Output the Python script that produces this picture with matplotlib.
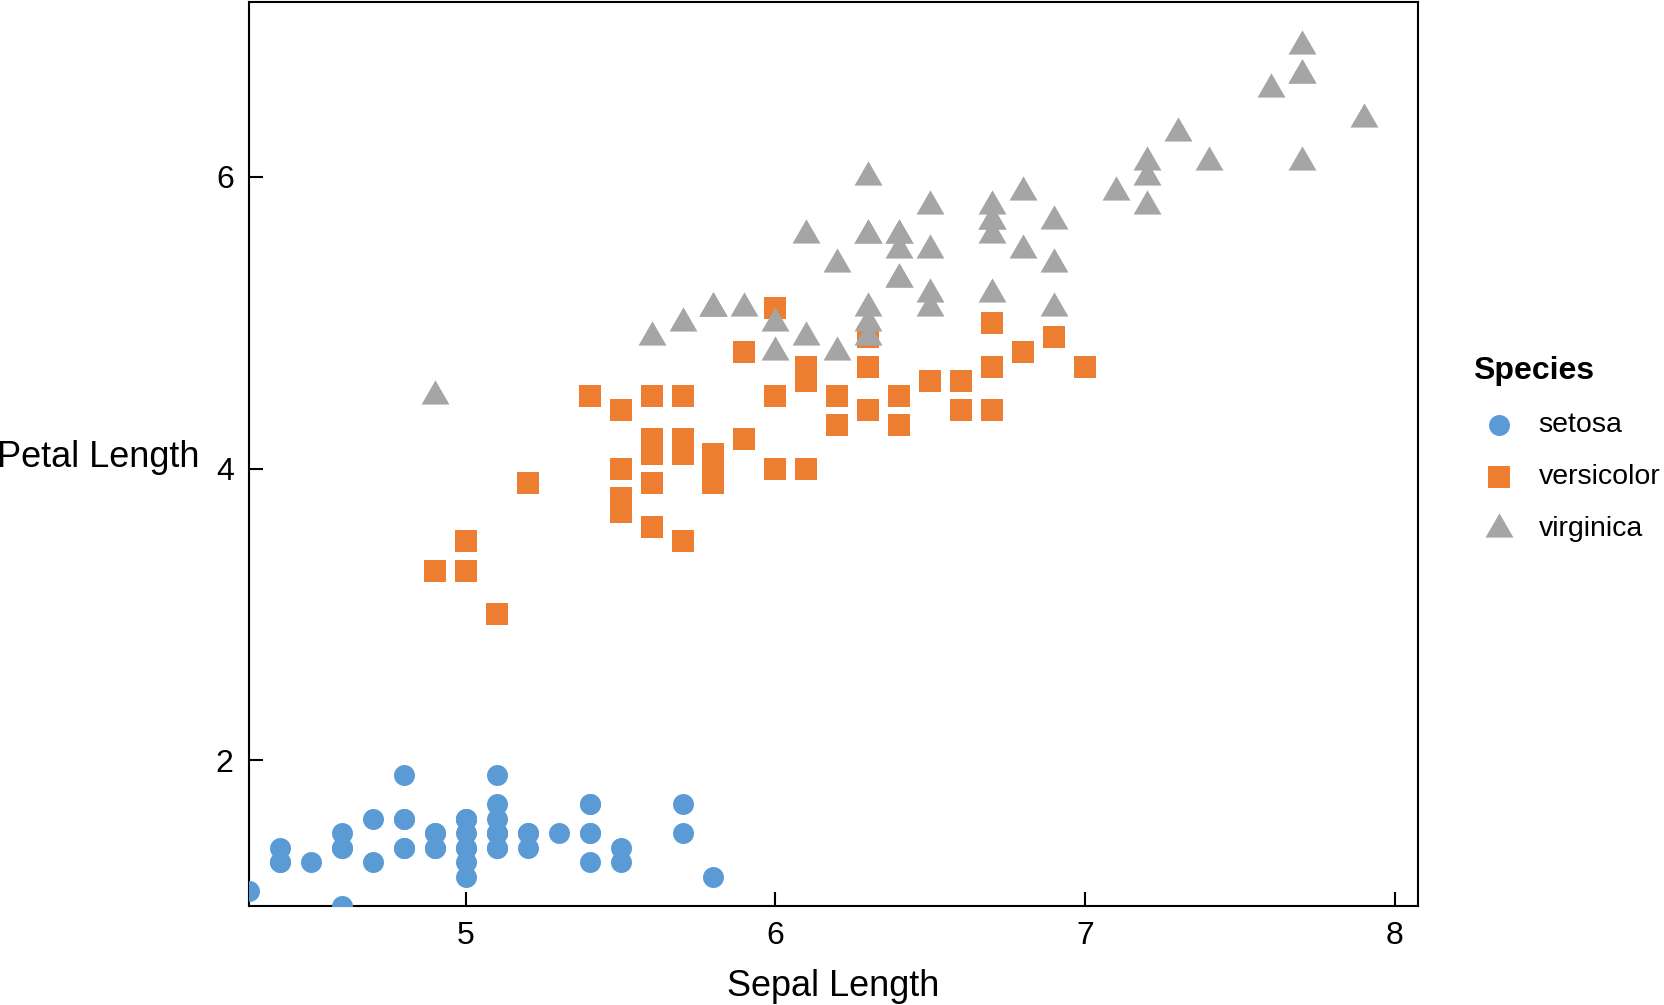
import numpy as np
import matplotlib
matplotlib.use("Agg")
import matplotlib.pyplot as plt

plt.rcParams['font.family'] = ['Liberation Sans', 'DejaVu Sans']

# iris: sepal length / petal length per species
setosa_sepal = [5.1, 4.9, 4.7, 4.6, 5.0, 5.4, 4.6, 5.0, 4.4, 4.9,
                5.4, 4.8, 4.8, 4.3, 5.8, 5.7, 5.4, 5.1, 5.7, 5.1,
                5.4, 5.1, 4.6, 5.1, 4.8, 5.0, 5.0, 5.2, 5.2, 4.7,
                4.8, 5.4, 5.2, 5.5, 4.9, 5.0, 5.5, 4.9, 4.4, 5.1,
                5.0, 4.5, 4.4, 5.0, 5.1, 4.8, 5.1, 4.6, 5.3, 5.0]
setosa_petal = [1.4, 1.4, 1.3, 1.5, 1.4, 1.7, 1.4, 1.5, 1.4, 1.5,
                1.5, 1.6, 1.4, 1.1, 1.2, 1.5, 1.3, 1.4, 1.7, 1.5,
                1.7, 1.5, 1.0, 1.7, 1.9, 1.6, 1.6, 1.5, 1.4, 1.6,
                1.6, 1.5, 1.5, 1.4, 1.5, 1.2, 1.3, 1.4, 1.3, 1.5,
                1.3, 1.3, 1.3, 1.6, 1.9, 1.4, 1.6, 1.4, 1.5, 1.4]

versicolor_sepal = [7.0, 6.4, 6.9, 5.5, 6.5, 5.7, 6.3, 4.9, 6.6, 5.2,
                    5.0, 5.9, 6.0, 6.1, 5.6, 6.7, 5.6, 5.8, 6.2, 5.6,
                    5.9, 6.1, 6.3, 6.1, 6.4, 6.6, 6.8, 6.7, 6.0, 5.7,
                    5.5, 5.5, 5.8, 6.0, 5.4, 6.0, 6.7, 6.3, 5.6, 5.5,
                    5.5, 6.1, 5.8, 5.0, 5.6, 5.7, 5.7, 6.2, 5.1, 5.7]
versicolor_petal = [4.7, 4.5, 4.9, 4.0, 4.6, 4.5, 4.7, 3.3, 4.6, 3.9,
                    3.5, 4.2, 4.0, 4.7, 3.6, 4.4, 4.5, 4.1, 4.5, 3.9,
                    4.8, 4.0, 4.9, 4.7, 4.3, 4.4, 4.8, 5.0, 4.5, 3.5,
                    3.8, 3.7, 3.9, 5.1, 4.5, 4.5, 4.7, 4.4, 4.1, 4.0,
                    4.4, 4.6, 4.0, 3.3, 4.2, 4.2, 4.2, 4.3, 3.0, 4.1]

virginica_sepal = [6.3, 5.8, 7.1, 6.3, 6.5, 7.6, 4.9, 7.3, 6.7, 7.2,
                   6.5, 6.4, 6.8, 5.7, 5.8, 6.4, 6.5, 7.7, 7.7, 6.0,
                   6.9, 5.6, 7.7, 6.3, 6.7, 7.2, 6.2, 6.1, 6.4, 7.2,
                   7.4, 7.9, 6.4, 6.3, 6.1, 7.7, 6.3, 6.4, 6.0, 6.9,
                   6.7, 6.9, 5.8, 6.8, 6.7, 6.7, 6.3, 6.5, 6.2, 5.9]
virginica_petal = [6.0, 5.1, 5.9, 5.6, 5.8, 6.6, 4.5, 6.3, 5.8, 6.1,
                   5.1, 5.3, 5.5, 5.0, 5.1, 5.3, 5.5, 6.7, 6.9, 5.0,
                   5.7, 4.9, 6.7, 4.9, 5.7, 6.0, 4.8, 4.9, 5.6, 5.8,
                   6.1, 6.4, 5.6, 5.1, 5.6, 6.1, 5.6, 5.5, 4.8, 5.4,
                   5.6, 5.1, 5.1, 5.9, 5.7, 5.2, 5.0, 5.2, 5.4, 5.1]

species = ['setosa', 'versicolor', 'virginica']
colors = ['#5B9BD5', '#ED7D31', '#A5A5A5']

# equilateral-ish triangle marker
tri = [(0, 1), (-0.866, -0.5), (0.866, -0.5)]

fig = plt.figure(figsize=(16.65, 10.05), dpi=100)
ax = fig.add_axes([0.1495, 0.0985, 0.7022, 0.8995])

ax.scatter(setosa_sepal, setosa_petal, s=228, marker='o', color=colors[0],
           linewidths=0, label=species[0], zorder=3)
ax.scatter(versicolor_sepal, versicolor_petal, s=240, marker='s', color=colors[1],
           linewidths=0, label=species[1], zorder=3)
ax.scatter(virginica_sepal, virginica_petal, s=540, marker=tri, color=colors[2],
           linewidths=0, label=species[2], zorder=3)

ax.set_xlim(4.3, 8.075)
ax.set_ylim(1.0, 7.2)
ax.set_xticks([5, 6, 7, 8])
ax.set_yticks([2, 4, 6])

for sp in ax.spines.values():
    sp.set_linewidth(1.5)
    sp.set_color('black')
ax.tick_params(direction='in', length=10, width=1.5, labelsize=23)
ax.tick_params(axis='x', pad=11)
ax.tick_params(axis='y', pad=11)

ax.set_xlabel('Sepal Length', fontsize=26, labelpad=13)
ax.set_ylabel('Petal Length', fontsize=26, rotation=0, ha='right', va='center')
ax.yaxis.set_label_coords(-0.042, 0.496)

leg = ax.legend(title='Species', loc='upper left', bbox_to_anchor=(1.025, 0.637),
                frameon=False, fontsize=20.5, title_fontsize=23,
                handletextpad=0.5, handlelength=1.8, labelspacing=0.92)
leg.get_title().set_fontweight('bold')
leg._legend_box.align = 'left'

fig.savefig('out.png', dpi=100)
